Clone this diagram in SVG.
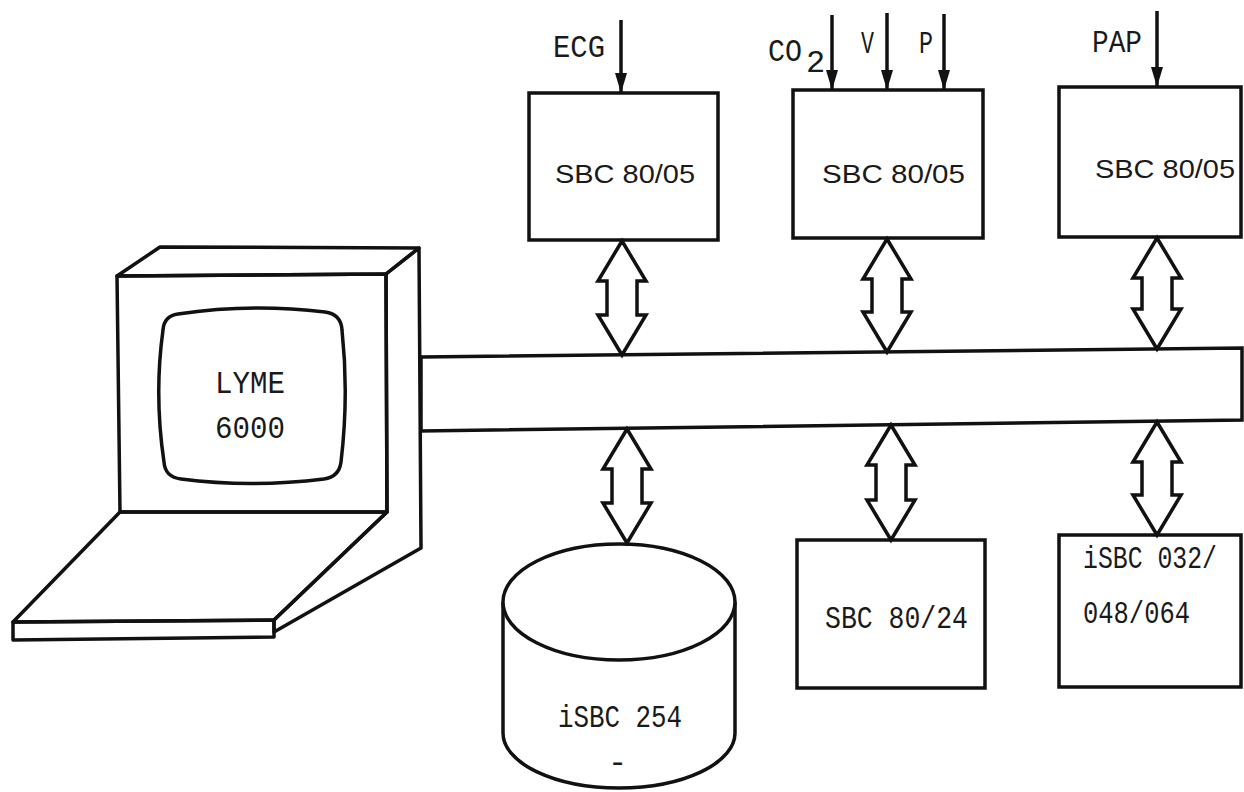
<svg xmlns="http://www.w3.org/2000/svg" width="1244" height="792" viewBox="0 0 1244 792">
  <style>
    .ln { fill: none; stroke: #111; stroke-width: 3.5; stroke-linejoin: round; stroke-linecap: round; }
    .box { fill: #fff; stroke: #111; stroke-width: 3.5; }
    .bus { fill: #fff; stroke: #111; stroke-width: 3.5; stroke-linejoin: miter; }
    .dbl { fill: #fff; stroke: #111; stroke-width: 3.5; stroke-linejoin: miter; }
    .sig { stroke: #111; stroke-width: 3.5; fill: none; }
    .mono { font-family: "Liberation Mono", "Courier New", monospace; font-size: 32px; fill: #1a1a1a; }
    .sans { font-family: "Liberation Sans", Arial, sans-serif; font-size: 26px; fill: #1a1a1a; }
  </style>
  <defs>
    <marker id="inArrow" markerUnits="userSpaceOnUse" markerWidth="22" markerHeight="14" refX="20" refY="7" orient="auto">
      <path d="M0,1 L20,7 L0,13 Z" fill="#111"/>
    </marker>
  </defs>

  <rect width="1244" height="792" fill="#fff"/>

  <!-- terminal -->
  <g id="terminal">
    <!-- top face -->
    <path class="ln" d="M117,276 L160,247 L419,248 L386,274 Z" fill="#fff"/>
    <!-- right side -->
    <path class="ln" d="M386,274 L419,248 L421,548 L274,632 L274,620 L387,512 Z" fill="#fff"/>
    <!-- front face -->
    <path class="ln" d="M117,276 L386,274 L387,512 L120,512 Z" fill="#fff"/>
    <!-- keyboard -->
    <path class="ln" d="M120,512 L387,512 L274,620 L13,622 Z" fill="#fff"/>
    <path class="ln" d="M13,622 L274,620 L274,637 L13,640 Z" fill="#fff"/>
    <!-- screen -->
    <path class="ln" stroke-width="4" d="M178,314 Q250,303 325,312 Q341,314 342,330 Q349,395 341,462 Q339,477 324,479 Q250,488 181,479 Q165,477 164,462 Q154,395 163,330 Q164,316 178,314 Z"/>
    <text class="mono" x="215" y="393" textLength="70" lengthAdjust="spacingAndGlyphs">LYME</text>
    <text class="mono" x="215" y="438" textLength="70" lengthAdjust="spacingAndGlyphs">6000</text>
  </g>

  <!-- system bus -->
  <g id="bus">
    <path class="bus" d="M421,357 L1242,348 L1242,420 L421,431 Z"/>
  </g>

  <!-- processor boards with analog inputs -->
  <g id="sbc-ecg">
    <rect class="box" x="529" y="93" width="189" height="147"/>
    <text class="sans" x="555" y="183" textLength="140" lengthAdjust="spacingAndGlyphs">SBC 80/05</text>
  </g>
  <g id="sbc-resp">
    <rect class="box" x="793" y="90" width="190" height="148"/>
    <text class="sans" x="822" y="183" textLength="143" lengthAdjust="spacingAndGlyphs">SBC 80/05</text>
  </g>
  <g id="sbc-pap">
    <rect class="box" x="1059" y="87" width="182" height="150"/>
    <text class="sans" x="1095" y="178" textLength="140" lengthAdjust="spacingAndGlyphs">SBC 80/05</text>
  </g>

  <!-- lower boards and disk -->
  <g id="disk">
    <path class="box" d="M503,602 L503,733 A116,55 0 0 0 735,733 L735,602"/>
    <ellipse class="box" cx="619" cy="602" rx="116" ry="58"/>
    <text class="mono" x="558" y="727" textLength="124" lengthAdjust="spacingAndGlyphs">iSBC 254</text>
    <text class="mono" x="608" y="772" font-size="18">-</text>
  </g>
  <g id="sbc-8024">
    <rect class="box" x="797" y="540" width="188" height="148"/>
    <text class="mono" x="825" y="628" textLength="143" lengthAdjust="spacingAndGlyphs">SBC 80/24</text>
  </g>
  <g id="isbc-mem">
    <rect class="box" x="1059" y="535" width="182" height="152"/>
    <text class="mono" x="1083" y="568" textLength="134" lengthAdjust="spacingAndGlyphs">iSBC 032/</text>
    <text class="mono" x="1083" y="623" textLength="107" lengthAdjust="spacingAndGlyphs">048/064</text>
  </g>

  <!-- connectors -->
  <g id="connectors">
    <!-- signal inputs -->
    <line class="sig" x1="621" y1="20" x2="621" y2="93" marker-end="url(#inArrow)"/>
    <line class="sig" x1="832" y1="15" x2="832" y2="90" marker-end="url(#inArrow)"/>
    <line class="sig" x1="887" y1="13" x2="887" y2="90" marker-end="url(#inArrow)"/>
    <line class="sig" x1="944" y1="14" x2="944" y2="90" marker-end="url(#inArrow)"/>
    <line class="sig" x1="1157" y1="11" x2="1157" y2="87" marker-end="url(#inArrow)"/>
    <text class="mono" x="553" y="57" textLength="52" lengthAdjust="spacingAndGlyphs">ECG</text>
    <text class="mono" x="768" y="61" textLength="34" lengthAdjust="spacingAndGlyphs">CO</text>
    <text class="mono" x="806" y="72" font-size="22">2</text>
    <text class="mono" x="861" y="53" textLength="13" lengthAdjust="spacingAndGlyphs">V</text>
    <text class="mono" x="919" y="53" textLength="14" lengthAdjust="spacingAndGlyphs">P</text>
    <text class="mono" x="1092" y="52" textLength="50" lengthAdjust="spacingAndGlyphs">PAP</text>

    <!-- bidirectional bus links -->
    <path class="dbl" d="M622,241 L646,281 L637,281 L637,315 L646,315 L622,355 L598,315 L607,315 L607,281 L598,281 Z"/>
    <path class="dbl" d="M887,239 L911,279 L902,279 L902,312 L911,312 L887,352 L863,312 L872,312 L872,279 L863,279 Z"/>
    <path class="dbl" d="M1157,238 L1181,278 L1172,278 L1172,309 L1181,309 L1157,349 L1133,309 L1142,309 L1142,278 L1133,278 Z"/>
    <path class="dbl" d="M627,429 L651,469 L642,469 L642,503 L651,503 L627,543 L603,503 L612,503 L612,469 L603,469 Z"/>
    <path class="dbl" d="M891,425 L915,465 L906,465 L906,500 L915,500 L891,540 L867,500 L876,500 L876,465 L867,465 Z"/>
    <path class="dbl" d="M1157,422 L1181,462 L1172,462 L1172,495 L1181,495 L1157,535 L1133,495 L1142,495 L1142,462 L1133,462 Z"/>
  </g>
</svg>
